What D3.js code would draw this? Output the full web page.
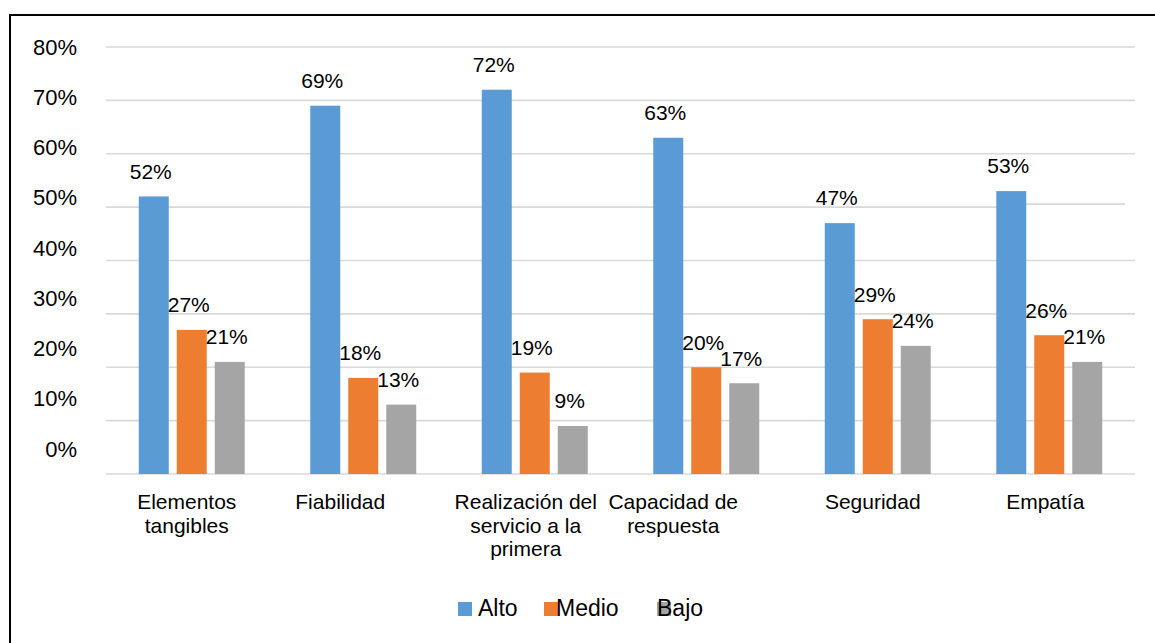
<!DOCTYPE html>
<html>
<head>
<meta charset="utf-8">
<script src="https://cdn.jsdelivr.net/npm/d3@7"></script>
<style>
  body { margin:0; background:#fff; }
  text { font-family: "Liberation Sans", Arial, sans-serif; fill:#000; }
</style>
</head>
<body>
<div id="chart-area"></div>
<script>
// data
var categories = ["Elementos tangibles", "Fiabilidad", "Realización del servicio a la primera",
                  "Capacidad de respuesta", "Seguridad", "Empatía"];
var series = ["Alto", "Medio", "Bajo"];
var alto  = [0.52, 0.69, 0.72, 0.63, 0.47, 0.53];
var medio = [0.27, 0.18, 0.19, 0.20, 0.29, 0.26];
var bajo  = [0.21, 0.13, 0.09, 0.17, 0.24, 0.21];
var yTicks = [0, 0.1, 0.2, 0.3, 0.4, 0.5, 0.6, 0.7, 0.8];

var colors = { Alto:"#5B9BD5", Medio:"#ED7D31", Bajo:"#A5A5A5" };
var values = { Alto:alto, Medio:medio, Bajo:bajo };
// small horizontal nudges of the category labels, as in the original
var labelShift = [-5, -23, -9, -33, -5, -4];

var W = 1155, H = 643;
var svg = d3.select("#chart-area").append("svg")
    .attr("width", W).attr("height", H);

// frame
svg.append("rect")
    .attr("x", 10).attr("y", 15)
    .attr("width", W + 20).attr("height", H + 20)
    .attr("fill", "none").attr("stroke", "#000").attr("stroke-width", 2);

// Scales
var x0 = d3.scaleBand().domain(categories).range([106, 1135])
    .paddingInner(0.382).paddingOuter(0.191);
var x1 = d3.scaleBand().domain(series).range([0, x0.bandwidth()])
    .paddingInner(8 / 38).paddingOuter(0);
var y = d3.scaleLinear().domain([0, 0.8]).range([474, 47]);
var yLab = d3.scaleLinear().domain([0, 0.8]).range([449, 47]);

// Gridlines
svg.append("g").selectAll("line")
    .data(yTicks)
    .enter().append("line")
    .attr("x1", 106)
    .attr("x2", function(d){ return d == 0.5 ? 1010 : 1135; })
    .attr("y1", function(d){ return y(d); })
    .attr("y2", function(d){ return y(d); })
    .attr("stroke", "#d9d9d9").attr("stroke-width", 1.6);
// stray segment near Empatía
svg.append("line")
    .attr("x1", 1022).attr("x2", 1125)
    .attr("y1", y(0.5) - 3).attr("y2", y(0.5) - 3)
    .attr("stroke", "#d9d9d9").attr("stroke-width", 1.6);

// Y labels
svg.append("g").selectAll("text")
    .data(yTicks)
    .enter().append("text")
    .attr("x", 77)
    .attr("y", function(d){ return yLab(d); })
    .attr("dy", "0.35em")
    .attr("text-anchor", "end")
    .attr("font-size", "22px")
    .text(d3.format(".0%"));

// Bars
var groups = svg.append("g").selectAll("g")
    .data(categories)
    .enter().append("g")
    .attr("transform", function(d){ return "translate(" + x0(d) + ",0)"; });

groups.selectAll("rect")
    .data(function(c, i){ return series.map(function(s){ return { s:s, v:values[s][i] }; }); })
    .enter().append("rect")
    .attr("x", function(d){ return x1(d.s); })
    .attr("width", x1.bandwidth())
    .attr("y", function(d){ return y(d.v); })
    .attr("height", function(d){ return y(0) - y(d.v); })
    .attr("fill", function(d){ return colors[d.s]; });

// Data labels (drawn after all bars so they sit on top)
var labels = svg.append("g");
categories.forEach(function(c, i){
    series.forEach(function(s){
        var v = values[s][i];
        labels.append("text")
            .attr("x", x0(c) + x1(s) + x1.bandwidth() / 2 - 3)
            .attr("y", y(v) - 25)
            .attr("dy", "0.35em")
            .attr("text-anchor", "middle")
            .attr("font-size", "21px")
            .text(d3.format(".0%")(v));
    });
});

// Category labels, wrapped
var catG = svg.append("g");
categories.forEach(function(c, i){
    var t = catG.append("text")
        .attr("text-anchor", "middle")
        .attr("font-size", "21px");
    var cx = x0(c) + x0.bandwidth() / 2 + labelShift[i];
    var words = c.split(" "), lines = [], line = [];
    var probe = svg.append("text").attr("font-size", "21px");
    words.forEach(function(w){
        var test = line.concat([w]).join(" ");
        probe.text(test);
        if (line.length && probe.node().getComputedTextLength() > 150) {
            lines.push(line.join(" "));
            line = [w];
        } else {
            line.push(w);
        }
    });
    lines.push(line.join(" "));
    probe.remove();
    lines.forEach(function(l, k){
        t.append("tspan")
            .attr("x", cx)
            .attr("y", 509 + k * 23.5)
            .text(l);
    });
});

// Legend
var legendPos = [
    { s:"Alto",  box:458, tx:478 },
    { s:"Medio", box:544, tx:556 },
    { s:"Bajo",  box:657, tx:657 }
];
var legend = svg.append("g");
legendPos.forEach(function(p){
    legend.append("rect")
        .attr("x", p.box).attr("y", 602)
        .attr("width", 14).attr("height", 14)
        .attr("fill", colors[p.s]);
    legend.append("text")
        .attr("x", p.tx).attr("y", 616)
        .attr("font-size", "23px")
        .text(p.s);
});
</script>
</body>
</html>
